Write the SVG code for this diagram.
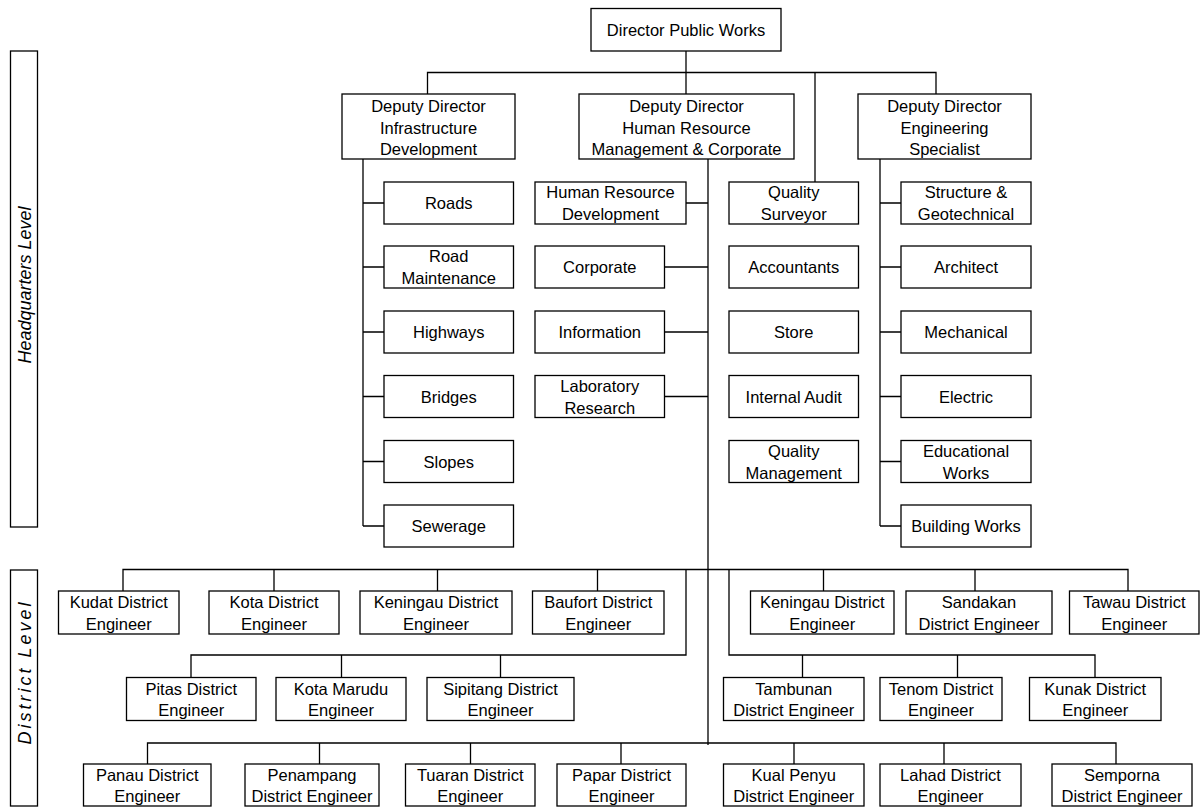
<svg xmlns="http://www.w3.org/2000/svg" width="1202" height="808" viewBox="0 0 1202 808">
  <style>
    .box { fill: #ffffff; stroke: #000000; stroke-width: 1.3; }
    .t { font-family: "Liberation Sans", Arial, sans-serif; font-size: 16.5px; fill: #000000; text-anchor: middle; dominant-baseline: central; }
    .lvl { font-family: "Liberation Sans", Arial, sans-serif; font-size: 18px; font-style: italic; fill: #000000; text-anchor: middle; dominant-baseline: central; }
    .conn { fill: none; stroke: #000000; stroke-width: 1.3; }
  </style>
  <rect width="1202" height="808" fill="#ffffff"/>

  <!-- level bands -->
  <g id="level-hq">
    <rect class="box" x="10.5" y="51" width="27" height="476"/>
    <text class="lvl" font-size="19.5" transform="translate(25 285) rotate(-90)">Headquarters Level</text>
  </g>
  <g id="level-district">
    <rect class="box" x="10.5" y="570" width="27" height="236"/>
    <text class="lvl" letter-spacing="3" transform="translate(25 672) rotate(-90)">District Level</text>
  </g>

  <!-- connectors -->
  <g id="connectors" class="conn">
    <!-- director to deputies -->
    <path d="M686 51 V94"/>
    <path d="M427.5 94 V72.5 H936 V94"/>
    <path d="M815 72.5 V182"/>
    <!-- infrastructure branch -->
    <path d="M363 159 V526 M363 203 H384 M363 267 H384 M363 332 H384 M363 396.5 H384 M363 461.5 H384 M363 526 H384"/>
    <!-- HR trunk -->
    <path d="M708 159 V745 M686 203 H708 M664.5 267 H708 M664.5 332 H708 M664.5 396.5 H708"/>
    <!-- engineering branch -->
    <path d="M880 159 V526 M880 203 H901 M880 267 H901 M880 332 H901 M880 396.5 H901 M880 461.5 H901 M880 526 H901"/>
    <!-- district row 1 -->
    <path d="M123 591 V569.5 H1128 V591 M274 569.5 V591 M437.5 569.5 V591 M597.5 569.5 V591 M823.5 569.5 V591 M975 569.5 V591"/>
    <!-- district row 2 -->
    <path d="M686 569.5 V655 H191 V677.5 M341.5 655 V677.5 M500.5 655 V677.5"/>
    <path d="M729 569.5 V655 H1095 V677.5 M802.5 655 V677.5 M957.5 655 V677.5"/>
    <!-- district row 3 -->
    <path d="M147.5 764 V743 H1116 V764 M319.5 743 V764 M470.5 743 V764 M621 743 V764 M794 743 V764 M944 743 V764"/>
  </g>

  <!-- top -->
  <g id="director">
    <rect class="box" x="591" y="8.5" width="190" height="42.5"/>
    <text class="t" x="686" y="30">Director Public Works</text>
  </g>

  <!-- deputies -->
  <g id="dd-infra">
    <rect class="box" x="342" y="94" width="173" height="65"/>
    <text class="t" x="428.5" y="106">Deputy Director</text>
    <text class="t" x="428.5" y="127.5">Infrastructure</text>
    <text class="t" x="428.5" y="149">Development</text>
  </g>
  <g id="dd-hr">
    <rect class="box" x="579" y="94" width="215" height="65"/>
    <text class="t" x="686.5" y="106">Deputy Director</text>
    <text class="t" x="686.5" y="127.5">Human Resource</text>
    <text class="t" x="686.5" y="149">Management &amp; Corporate</text>
  </g>
  <g id="dd-eng">
    <rect class="box" x="858" y="94" width="173" height="65"/>
    <text class="t" x="944.5" y="106">Deputy Director</text>
    <text class="t" x="944.5" y="127.5">Engineering</text>
    <text class="t" x="944.5" y="149">Specialist</text>
  </g>

  <!-- infrastructure units -->
  <g id="roads"><rect class="box" x="384" y="182" width="129.5" height="42"/><text class="t" x="448.75" y="203">Roads</text></g>
  <g id="road-maintenance"><rect class="box" x="384" y="246" width="129.5" height="42"/><text class="t" x="448.75" y="256">Road</text><text class="t" x="448.75" y="278">Maintenance</text></g>
  <g id="highways"><rect class="box" x="384" y="311" width="129.5" height="42"/><text class="t" x="448.75" y="332">Highways</text></g>
  <g id="bridges"><rect class="box" x="384" y="375.5" width="129.5" height="42"/><text class="t" x="448.75" y="396.5">Bridges</text></g>
  <g id="slopes"><rect class="box" x="384" y="440.5" width="129.5" height="42"/><text class="t" x="448.75" y="461.5">Slopes</text></g>
  <g id="sewerage"><rect class="box" x="384" y="505" width="129.5" height="42"/><text class="t" x="448.75" y="526">Sewerage</text></g>

  <!-- human resource units -->
  <g id="hr-development"><rect class="box" x="535" y="182" width="151" height="42"/><text class="t" x="610.5" y="192">Human Resource</text><text class="t" x="610.5" y="214">Development</text></g>
  <g id="corporate"><rect class="box" x="535" y="246" width="129.5" height="42"/><text class="t" x="599.75" y="267">Corporate</text></g>
  <g id="information"><rect class="box" x="535" y="311" width="129.5" height="42"/><text class="t" x="599.75" y="332">Information</text></g>
  <g id="laboratory"><rect class="box" x="535" y="375.5" width="129.5" height="42"/><text class="t" x="599.75" y="385.5">Laboratory</text><text class="t" x="599.75" y="407.5">Research</text></g>

  <!-- finance / quality units -->
  <g id="quality-surveyor"><rect class="box" x="729" y="182" width="129.5" height="42"/><text class="t" x="793.75" y="192">Quality</text><text class="t" x="793.75" y="214">Surveyor</text></g>
  <g id="accountants"><rect class="box" x="729" y="246" width="129.5" height="42"/><text class="t" x="793.75" y="267">Accountants</text></g>
  <g id="store"><rect class="box" x="729" y="311" width="129.5" height="42"/><text class="t" x="793.75" y="332">Store</text></g>
  <g id="internal-audit"><rect class="box" x="729" y="375.5" width="129.5" height="42"/><text class="t" x="793.75" y="396.5">Internal Audit</text></g>
  <g id="quality-management"><rect class="box" x="729" y="440.5" width="129.5" height="42"/><text class="t" x="793.75" y="450.5">Quality</text><text class="t" x="793.75" y="472.5">Management</text></g>

  <!-- engineering units -->
  <g id="structure"><rect class="box" x="901" y="182" width="130" height="42"/><text class="t" x="966" y="192">Structure &amp;</text><text class="t" x="966" y="214">Geotechnical</text></g>
  <g id="architect"><rect class="box" x="901" y="246" width="130" height="42"/><text class="t" x="966" y="267">Architect</text></g>
  <g id="mechanical"><rect class="box" x="901" y="311" width="130" height="42"/><text class="t" x="966" y="332">Mechanical</text></g>
  <g id="electric"><rect class="box" x="901" y="375.5" width="130" height="42"/><text class="t" x="966" y="396.5">Electric</text></g>
  <g id="educational-works"><rect class="box" x="901" y="440.5" width="130" height="42"/><text class="t" x="966" y="450.5">Educational</text><text class="t" x="966" y="472.5">Works</text></g>
  <g id="building-works"><rect class="box" x="901" y="505" width="130" height="42"/><text class="t" x="966" y="526">Building Works</text></g>

  <!-- district row 1 -->
  <g id="kudat"><rect class="box" x="58.5" y="591" width="120.5" height="43"/><text class="t" x="118.75" y="602">Kudat District</text><text class="t" x="118.75" y="623.5">Engineer</text></g>
  <g id="kota"><rect class="box" x="209" y="591" width="130" height="43"/><text class="t" x="274" y="602">Kota District</text><text class="t" x="274" y="623.5">Engineer</text></g>
  <g id="keningau-w"><rect class="box" x="360" y="591" width="152" height="43"/><text class="t" x="436" y="602">Keningau District</text><text class="t" x="436" y="623.5">Engineer</text></g>
  <g id="baufort"><rect class="box" x="532.5" y="591" width="131.5" height="43"/><text class="t" x="598.25" y="602">Baufort District</text><text class="t" x="598.25" y="623.5">Engineer</text></g>
  <g id="keningau-e"><rect class="box" x="750.5" y="591" width="143.5" height="43"/><text class="t" x="822.25" y="602">Keningau District</text><text class="t" x="822.25" y="623.5">Engineer</text></g>
  <g id="sandakan"><rect class="box" x="906" y="591" width="146" height="43"/><text class="t" x="979" y="602">Sandakan</text><text class="t" x="979" y="623.5">District Engineer</text></g>
  <g id="tawau"><rect class="box" x="1069.5" y="591" width="129.5" height="43"/><text class="t" x="1134.25" y="602">Tawau District</text><text class="t" x="1134.25" y="623.5">Engineer</text></g>

  <!-- district row 2 -->
  <g id="pitas"><rect class="box" x="126.5" y="677.5" width="129.5" height="43"/><text class="t" x="191.25" y="688.5">Pitas District</text><text class="t" x="191.25" y="710">Engineer</text></g>
  <g id="kota-marudu"><rect class="box" x="276" y="677.5" width="130" height="43"/><text class="t" x="341" y="688.5">Kota Marudu</text><text class="t" x="341" y="710">Engineer</text></g>
  <g id="sipitang"><rect class="box" x="427" y="677.5" width="147" height="43"/><text class="t" x="500.5" y="688.5">Sipitang District</text><text class="t" x="500.5" y="710">Engineer</text></g>
  <g id="tambunan"><rect class="box" x="723.5" y="677.5" width="140.5" height="43"/><text class="t" x="793.75" y="688.5">Tambunan</text><text class="t" x="793.75" y="710">District Engineer</text></g>
  <g id="tenom"><rect class="box" x="880" y="677.5" width="122" height="43"/><text class="t" x="941" y="688.5">Tenom District</text><text class="t" x="941" y="710">Engineer</text></g>
  <g id="kunak"><rect class="box" x="1029.5" y="677.5" width="131.5" height="43"/><text class="t" x="1095.25" y="688.5">Kunak District</text><text class="t" x="1095.25" y="710">Engineer</text></g>

  <!-- district row 3 -->
  <g id="panau"><rect class="box" x="83.5" y="764" width="127.5" height="42"/><text class="t" x="147.25" y="774.5">Panau District</text><text class="t" x="147.25" y="796">Engineer</text></g>
  <g id="penampang"><rect class="box" x="245" y="764" width="134" height="42"/><text class="t" x="312" y="774.5">Penampang</text><text class="t" x="312" y="796">District Engineer</text></g>
  <g id="tuaran"><rect class="box" x="405.5" y="764" width="129.5" height="42"/><text class="t" x="470.25" y="774.5">Tuaran District</text><text class="t" x="470.25" y="796">Engineer</text></g>
  <g id="papar"><rect class="box" x="557" y="764" width="129" height="42"/><text class="t" x="621.5" y="774.5">Papar District</text><text class="t" x="621.5" y="796">Engineer</text></g>
  <g id="kual-penyu"><rect class="box" x="723.5" y="764" width="140.5" height="42"/><text class="t" x="793.75" y="774.5">Kual Penyu</text><text class="t" x="793.75" y="796">District Engineer</text></g>
  <g id="lahad"><rect class="box" x="880" y="764" width="141" height="42"/><text class="t" x="950.5" y="774.5">Lahad District</text><text class="t" x="950.5" y="796">Engineer</text></g>
  <g id="semporna"><rect class="box" x="1052" y="764" width="140" height="42"/><text class="t" x="1122" y="774.5">Semporna</text><text class="t" x="1122" y="796">District Engineer</text></g>
</svg>
